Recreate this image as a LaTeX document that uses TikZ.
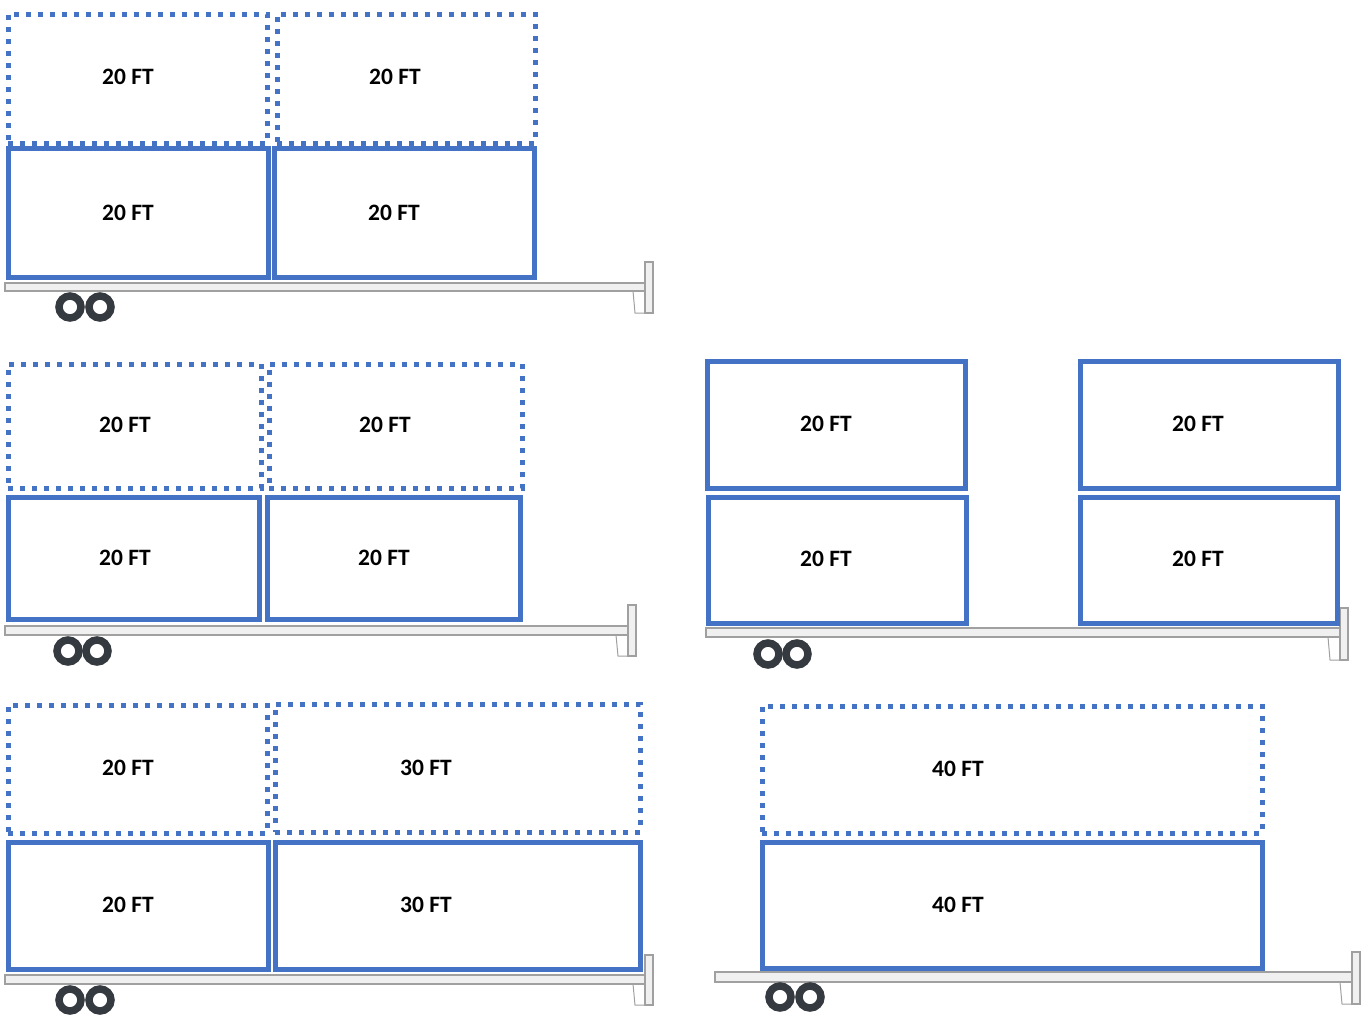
\documentclass[tikz,border=0pt]{standalone}
\usepackage{fontspec}
\setmainfont{Carlito}
\definecolor{boxblue}{HTML}{4472C4}
\definecolor{bedfill}{HTML}{F0F0F0}
\definecolor{bedline}{HTML}{A0A0A0}
\definecolor{wheelc}{HTML}{353A40}
% name, x1, y1, x2, y2, label, style, label x, label y
\newcommand\cbox[9]{\node[#7, minimum width=#4pt-#2pt, minimum height=#5pt-#3pt] (#1) at ({(#2+#4)/2},{(#3+#5)/2}) {};
  \node[boxlabel] (#1t) at (#8,#9) {#6};}
\newcommand\trailer[6]{% x1, x2(post left), ytop bed, ybot bed, post top, post bottom
  \draw[bedline, fill=bedfill, line width=1.2pt] (#1,#3) rectangle (#2,#4);
  \draw[bedline, line width=1pt] (#2-12,#4) -- (#2-10,#6) -- (#2,#6);
  \draw[bedline, fill=bedfill, line width=1.2pt] (#2,#5) rectangle (#2+8,#6);
}
\begin{document}
\begin{tikzpicture}[x=1pt,y=-1pt,
  boxlabel/.style={inner sep=0pt, font=\bfseries\fontsize{23.5}{26}\selectfont},
  solidbox/.style={draw=boxblue, line width=5pt, rectangle, inner sep=0pt},
  dotbox/.style={draw=boxblue, line width=5pt, dash pattern=on 5pt off 7pt, rectangle, inner sep=0pt},
  wheel/.style={draw=wheelc, line width=7.5pt}]
\useasboundingbox (0,0) rectangle (1370,1017);
% ---------- trailer 1 ----------
\trailer{5}{645}{283}{291}{262}{313}
\cbox{a1}{8}{14}{267}{143}{20 FT}{dotbox}{128}{77}
\cbox{a2}{277}{14}{535}{143}{20 FT}{dotbox}{395}{77}
\cbox{a3}{8}{148}{268}{277}{20 FT}{solidbox}{128}{213}
\cbox{a4}{274}{148}{534}{277}{20 FT}{solidbox}{394}{213}
\draw[wheel] (70,307) circle (11);
\draw[wheel] (100,307) circle (11);
% ---------- trailer 2 ----------
\trailer{5}{628}{626}{635}{605}{656}
\cbox{b1}{8}{364}{261}{488}{20 FT}{dotbox}{125}{425}
\cbox{b2}{269}{364}{522}{488}{20 FT}{dotbox}{385}{425}
\cbox{b3}{8}{497}{259}{619}{20 FT}{solidbox}{125}{558}
\cbox{b4}{267}{497}{520}{619}{20 FT}{solidbox}{384}{558}
\draw[wheel] (68,651) circle (11);
\draw[wheel] (97,651) circle (11);
% ---------- trailer 3 ----------
\trailer{706}{1340}{628}{637}{608}{660}
\cbox{c1}{707}{361}{965}{488}{20 FT}{solidbox}{826}{424}
\cbox{c2}{1080}{361}{1338}{488}{20 FT}{solidbox}{1198}{424}
\cbox{c3}{708}{497}{966}{623}{20 FT}{solidbox}{826}{559}
\cbox{c4}{1080}{497}{1337}{623}{20 FT}{solidbox}{1198}{559}
\draw[wheel] (768,654) circle (11);
\draw[wheel] (797,654) circle (11);
% ---------- trailer 4 ----------
\trailer{5}{645}{975}{984}{955}{1005}
\cbox{d1}{8}{705}{267}{833}{20 FT}{dotbox}{128}{768}
\cbox{d2}{275}{704}{640}{832}{30 FT}{dotbox}{426}{768}
\cbox{d3}{8}{842}{268}{969}{20 FT}{solidbox}{128}{905}
\cbox{d4}{275}{842}{640}{969}{30 FT}{solidbox}{426}{905}
\draw[wheel] (70,1000) circle (11);
\draw[wheel] (100,1000) circle (11);
% ---------- trailer 5 ----------
\trailer{715}{1352}{972}{982}{952}{1004}
\cbox{e1}{762}{706}{1262}{833}{40 FT}{dotbox}{958}{769}
\cbox{e2}{762}{842}{1262}{968}{40 FT}{solidbox}{958}{905}
\draw[wheel] (780,997) circle (11);
\draw[wheel] (810,997) circle (11);
\end{tikzpicture}
\end{document}
